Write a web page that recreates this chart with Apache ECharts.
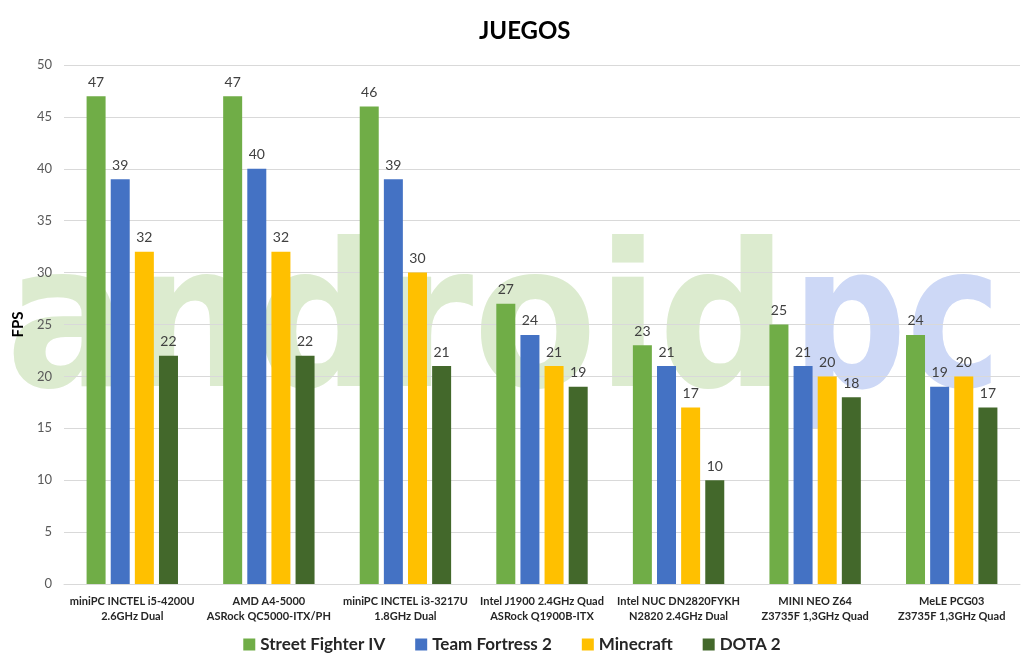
<!DOCTYPE html>
<html style="height: 100%">
<head>
    <meta charset="utf-8">
</head>
<body style="height: 100%; margin: 0; background: #fff">
<div id="container" style="width: 1024px; height: 668px"></div>
<script type="text/javascript" src="https://cdn.jsdelivr.net/npm/echarts@6/dist/echarts.min.js"></script>
<script type="text/javascript">
// equipos (dos lineas por etiqueta)
var categories = [
    'miniPC INCTEL i5-4200U\n2.6GHz Dual',
    'AMD A4-5000\nASRock QC5000-ITX/PH',
    'miniPC INCTEL i3-3217U\n1.8GHz Dual',
    'Intel J1900 2.4GHz Quad\nASRock Q1900B-ITX',
    'Intel NUC DN2820FYKH\nN2820 2.4GHz Dual',
    'MINI NEO Z64\nZ3735F 1,3GHz Quad',
    'MeLE PCG03\nZ3735F 1,3GHz Quad'
];
var streetFighter = [47, 47, 46, 27, 23, 25, 24];
var teamFortress = [39, 40, 39, 24, 21, 21, 19];
var minecraft = [32, 32, 30, 21, 17, 20, 20];
var dota = [22, 22, 21, 19, 10, 18, 17];

var font = 'Lato, "Open Sans", sans-serif';

function serie(name, color, data) {
    return {
        name: name,
        type: 'bar',
        barWidth: 19,
        barGap: '27%',
        itemStyle: { color: color },
        label: {
            show: true,
            position: 'top',
            distance: 7,
            color: '#404040',
            fontSize: 14,
            fontFamily: font
        },
        data: data
    };
}

var myChart = echarts.init(document.getElementById('container'));
var option = {
    backgroundColor: '#fff',
    animation: false,
    title: {
        text: 'JUEGOS',
        left: 474,
        top: 14,
        textStyle: { fontSize: 24, fontWeight: 'bold', color: '#000', fontFamily: font }
    },
    // marca de agua de fondo
    graphic: [
        {
            type: 'text', x: 6, y: 334, scaleX: 0.9, z: -10, silent: true,
            style: { text: 'android', font: 'bold 200px "DejaVu Sans", sans-serif', fill: '#dcebcf', verticalAlign: 'middle' }
        },
        {
            type: 'text', x: 792, y: 334, scaleX: 0.8, z: -10, silent: true,
            style: { text: 'pc', font: 'bold 200px "DejaVu Sans", sans-serif', fill: '#cdd8f6', verticalAlign: 'middle' }
        }
    ],
    legend: {
        bottom: 10,
        left: 'center',
        itemWidth: 12,
        itemHeight: 12,
        itemGap: 30,
        icon: 'rect',
        textStyle: { fontSize: 17, fontWeight: 'bold', color: '#262626', fontFamily: font },
        data: ['Street Fighter IV', 'Team Fortress 2', 'Minecraft', 'DOTA 2']
    },
    grid: { left: 64, right: 4, top: 65, bottom: 84, outerBoundsMode: 'none' },
    xAxis: {
        type: 'category',
        data: categories,
        axisTick: { show: false },
        axisLine: { lineStyle: { color: '#d9d9d9' } },
        axisLabel: {
            interval: 0,
            margin: 10,
            color: '#262626',
            fontSize: 11,
            fontWeight: 'bold',
            lineHeight: 15,
            fontFamily: font
        }
    },
    yAxis: {
        type: 'value',
        min: 0,
        max: 50,
        interval: 5,
        name: 'FPS',
        nameLocation: 'middle',
        nameGap: 37,
        nameRotate: 90,
        nameTextStyle: { fontSize: 15, fontWeight: 'bold', color: '#000', fontFamily: font },
        axisLabel: { color: '#595959', fontSize: 13, margin: 12, fontFamily: font },
        splitLine: { lineStyle: { color: '#d9d9d9' } }
    },
    series: [
        serie('Street Fighter IV', '#70ad47', streetFighter),
        serie('Team Fortress 2', '#4472c4', teamFortress),
        serie('Minecraft', '#ffc000', minecraft),
        serie('DOTA 2', '#43682b', dota)
    ]
};
myChart.setOption(option);
</script>
</body>
</html>
